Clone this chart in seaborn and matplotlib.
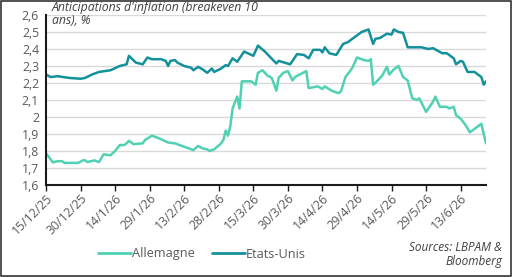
import numpy as np
import pandas as pd
import matplotlib
matplotlib.use("Agg")
import matplotlib.pyplot as plt
import matplotlib.dates as mdates
from matplotlib.ticker import FuncFormatter
from matplotlib.patches import Rectangle
import seaborn as sns

# Breakeven 10 ans - Etats-Unis
us_dates = [
    "2025-12-15", "2025-12-17", "2025-12-20", "2025-12-25", "2025-12-30",
    "2026-01-01", "2026-01-04", "2026-01-07", "2026-01-12", "2026-01-16",
    "2026-01-19", "2026-01-20", "2026-01-23", "2026-01-26", "2026-01-28",
    "2026-01-30", "2026-02-03", "2026-02-05", "2026-02-06", "2026-02-07",
    "2026-02-09", "2026-02-10", "2026-02-13", "2026-02-16", "2026-02-17",
    "2026-02-19", "2026-02-21", "2026-02-23", "2026-02-25", "2026-02-26",
    "2026-03-01", "2026-03-03", "2026-03-04", "2026-03-06", "2026-03-08",
    "2026-03-11", "2026-03-15", "2026-03-17", "2026-03-20", "2026-03-25",
    "2026-03-26", "2026-03-31", "2026-04-03", "2026-04-06", "2026-04-08",
    "2026-04-10", "2026-04-13", "2026-04-14", "2026-04-15", "2026-04-17",
    "2026-04-20", "2026-04-23", "2026-04-25", "2026-04-27", "2026-05-01",
    "2026-05-04", "2026-05-06", "2026-05-07", "2026-05-09", "2026-05-12",
    "2026-05-14", "2026-05-15", "2026-05-17", "2026-05-19", "2026-05-21",
    "2026-05-27", "2026-05-30", "2026-06-01", "2026-06-03", "2026-06-05",
    "2026-06-07", "2026-06-10", "2026-06-11", "2026-06-13", "2026-06-14",
    "2026-06-16", "2026-06-19", "2026-06-22", "2026-06-23", "2026-06-24",
]
us_values = [
    2.25, 2.235, 2.24, 2.23, 2.225,
    2.23, 2.25, 2.265, 2.275, 2.30,
    2.31, 2.36, 2.32, 2.31, 2.35,
    2.34, 2.34, 2.33, 2.30, 2.33,
    2.335, 2.32, 2.30, 2.29, 2.275,
    2.295, 2.28, 2.26, 2.285, 2.265,
    2.285, 2.305, 2.30, 2.345, 2.325,
    2.385, 2.36, 2.42, 2.385, 2.315,
    2.33, 2.31, 2.37, 2.365, 2.345,
    2.395, 2.395, 2.38, 2.41, 2.375,
    2.365, 2.43, 2.44, 2.46, 2.50,
    2.515, 2.43, 2.46, 2.465, 2.49,
    2.485, 2.515, 2.50, 2.495, 2.41,
    2.41, 2.40, 2.405, 2.39, 2.375,
    2.375, 2.345, 2.31, 2.33, 2.325,
    2.265, 2.265, 2.235, 2.19, 2.21,
]

# Breakeven 10 ans - Allemagne
de_dates = [
    "2025-12-15", "2025-12-18", "2025-12-20", "2025-12-22", "2025-12-23",
    "2025-12-29", "2025-12-31", "2026-01-01", "2026-01-02", "2026-01-05",
    "2026-01-07", "2026-01-09", "2026-01-12", "2026-01-14", "2026-01-16",
    "2026-01-18", "2026-01-19", "2026-01-20", "2026-01-22", "2026-01-26",
    "2026-01-27", "2026-01-30", "2026-02-02", "2026-02-06", "2026-02-09",
    "2026-02-11", "2026-02-13", "2026-02-16", "2026-02-17", "2026-02-19",
    "2026-02-21", "2026-02-23", "2026-02-24", "2026-02-26", "2026-03-01",
    "2026-03-02", "2026-03-03", "2026-03-04", "2026-03-05", "2026-03-06",
    "2026-03-08", "2026-03-09", "2026-03-10", "2026-03-14", "2026-03-16",
    "2026-03-17", "2026-03-19", "2026-03-21", "2026-03-23", "2026-03-25",
    "2026-03-26", "2026-03-28", "2026-03-30", "2026-04-01", "2026-04-02",
    "2026-04-07", "2026-04-08", "2026-04-12", "2026-04-14", "2026-04-15",
    "2026-04-18", "2026-04-21", "2026-04-22", "2026-04-24", "2026-04-26",
    "2026-04-27", "2026-04-29", "2026-05-02", "2026-05-04", "2026-05-05",
    "2026-05-06", "2026-05-08", "2026-05-10", "2026-05-12", "2026-05-13",
    "2026-05-15", "2026-05-17", "2026-05-19", "2026-05-21", "2026-05-23",
    "2026-05-25", "2026-05-26", "2026-05-29", "2026-06-01", "2026-06-02",
    "2026-06-04", "2026-06-07", "2026-06-08", "2026-06-10", "2026-06-11",
    "2026-06-13", "2026-06-15", "2026-06-17", "2026-06-22", "2026-06-23",
    "2026-06-24",
]
de_values = [
    1.787, 1.733, 1.74, 1.74, 1.73,
    1.73, 1.745, 1.745, 1.735, 1.745,
    1.735, 1.78, 1.775, 1.80, 1.835,
    1.835, 1.845, 1.86, 1.84, 1.845,
    1.865, 1.89, 1.875, 1.85, 1.845,
    1.835, 1.825, 1.81, 1.805, 1.83,
    1.815, 1.81, 1.80, 1.81, 1.845,
    1.865, 1.92, 1.89, 1.945, 2.05,
    2.12, 2.05, 2.21, 2.21, 2.19,
    2.26, 2.275, 2.245, 2.23, 2.155,
    2.23, 2.26, 2.27, 2.215, 2.235,
    2.27, 2.17, 2.18, 2.165, 2.18,
    2.155, 2.14, 2.15, 2.235, 2.27,
    2.29, 2.35, 2.335, 2.33, 2.34,
    2.19, 2.215, 2.245, 2.295, 2.25,
    2.28, 2.30, 2.235, 2.215, 2.11,
    2.10, 2.11, 2.03, 2.09, 2.12,
    2.06, 2.06, 2.05, 2.06, 2.01,
    1.99, 1.955, 1.91, 1.96, 1.90,
    1.845,
]

y_ticks = [1.6, 1.7, 1.8, 1.9, 2.0, 2.1, 2.2, 2.3, 2.4, 2.5, 2.6]
x_ticks = pd.date_range("2025-12-15", periods=13, freq="15D")

series_names = ["Allemagne", "Etats-Unis"]
colors = {"Allemagne": "#50d1b3", "Etats-Unis": "#13919b"}

df = pd.concat([
    pd.DataFrame({"date": pd.to_datetime(de_dates), "valeur": de_values, "pays": "Allemagne"}),
    pd.DataFrame({"date": pd.to_datetime(us_dates), "valeur": us_values, "pays": "Etats-Unis"}),
])

sns.set_theme(style="white")
plt.rcParams["font.family"] = ["Open Sans", "DejaVu Sans"]

fig = plt.figure(figsize=(5.12, 2.77), dpi=100)
ax = fig.add_axes([46 / 512, 1 - 185 / 277, 440 / 512, 170 / 277])

sns.lineplot(data=df, x="date", y="valeur", hue="pays", hue_order=series_names,
             palette=colors, linewidth=1.8, ax=ax, legend=False)

ax.set_ylim(1.6, 2.6)
ax.set_yticks(y_ticks)
ax.yaxis.set_major_formatter(FuncFormatter(lambda v, p: f"{v:g}".replace(".", ",")))
ax.set_xlim(pd.Timestamp("2025-12-15"), pd.Timestamp("2026-06-24"))
ax.set_xticks(x_ticks)
ax.xaxis.set_major_formatter(FuncFormatter(
    lambda v, p: (lambda d: f"{d.day}/{d.month}/{d.year % 100}")(mdates.num2date(v))))
ax.set_xlabel("")
ax.set_ylabel("")

ax.grid(axis="y", color="#d9d9d9", linewidth=1)
ax.set_axisbelow(True)
for s in ["top", "right"]:
    ax.spines[s].set_visible(False)
for s in ["left", "bottom"]:
    ax.spines[s].set_color("#1a1a1a")
    ax.spines[s].set_linewidth(1.5)

ax.tick_params(axis="y", length=0, labelsize=8.8, labelcolor="#595959", pad=5)
ax.tick_params(axis="x", bottom=True, length=4, width=1, color="#1a1a1a",
               labelsize=8.8, labelcolor="#595959", pad=1)
for lab in ax.get_xticklabels():
    lab.set_rotation(45)
    lab.set_ha("right")
    lab.set_rotation_mode("anchor")

fig.text(52 / 512, 1 - 1 / 277, "Anticipations d'inflation (breakeven 10\nans), %",
         ha="left", va="top", fontsize=8.8, style="italic", color="#404040", linespacing=1.05)

handles = [plt.Line2D([], [], color=colors[n], linewidth=2) for n in series_names]
fig.legend(handles, series_names, loc="center", bbox_to_anchor=(202 / 512, 1 - 254 / 277),
           ncol=2, frameon=False, fontsize=9.2, handlelength=2.6, handletextpad=0.1,
           columnspacing=1.3, labelcolor="#595959")

fig.text(502 / 512, 1 - 241 / 277, "Sources: LBPAM &\nBloomberg", ha="right", va="top",
         fontsize=8.5, style="italic", color="#404040", linespacing=1.1)

fig.patches.append(Rectangle((0.002, 0.004), 0.996, 0.992, transform=fig.transFigure,
                             fill=False, edgecolor="#333333", linewidth=1.2))

fig.savefig("out.png", dpi=100)
